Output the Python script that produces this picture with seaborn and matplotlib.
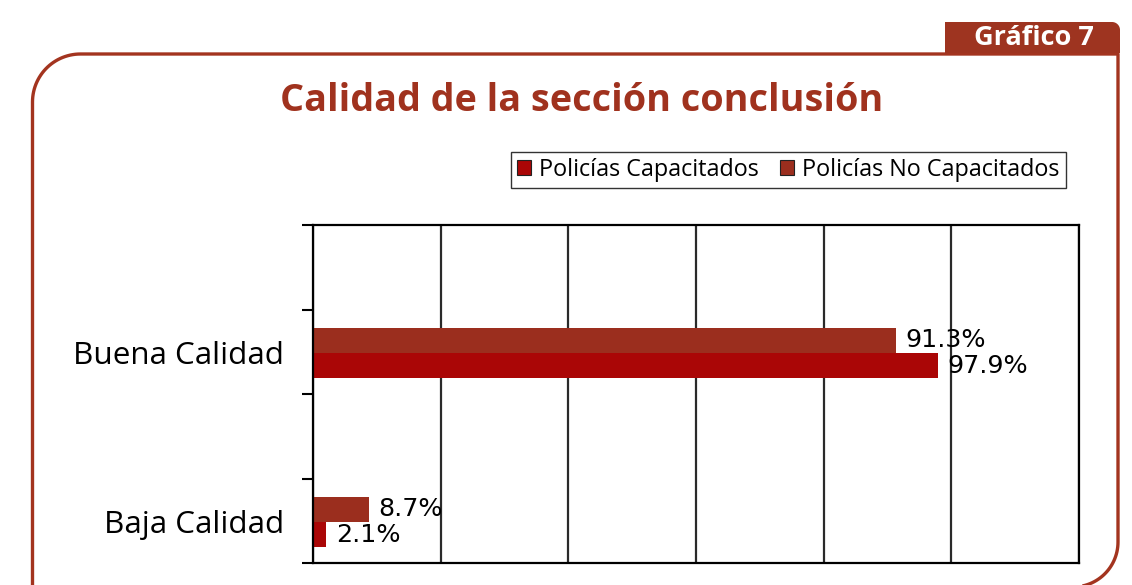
import numpy as np
import pandas as pd
import matplotlib
matplotlib.use("Agg")
import matplotlib.pyplot as plt
import seaborn as sns
from matplotlib.patches import Patch, PathPatch
from matplotlib.path import Path

# ---- data ----
categories = ["Buena Calidad", "Baja Calidad"]
groups = ["Policías Capacitados", "Policías No Capacitados"]
capacitados = [97.9, 2.1]
no_capacitados = [91.3, 8.7]
title = "Calidad de la sección conclusión"
badge = "Gráfico 7"

df = pd.DataFrame({
    "Calidad": categories * 2,
    "Grupo": [groups[0]] * 2 + [groups[1]] * 2,
    "Porcentaje": capacitados + no_capacitados,
})

sns.set_theme(style="white")
plt.rcParams["font.family"] = ["Open Sans", "DejaVu Sans"]
plt.rcParams["text.color"] = "black"
plt.rcParams["ytick.color"] = "black"
plt.rcParams["ytick.labelcolor"] = "black"

W, H = 1132, 585
fig = plt.figure(figsize=(W / 100, H / 100), dpi=100)
fig.patch.set_facecolor("white")

col_cap = "#AA0606"
col_nocap = "#9B2E1E"
frame_col = "#A3341F"

# ---- overlay for frame / badge ----
ov = fig.add_axes([0, 0, 1, 1], zorder=0)
ov.set_xlim(0, W)
ov.set_ylim(H, 0)
ov.axis("off")

def arc(cx, cy, r, a0, a1, n=30):
    t = np.radians(np.linspace(a0, a1, n))
    return np.column_stack([cx + r * np.cos(t), cy + r * np.sin(t)])

L, T, R = 32.5, 54, 1118
r1, r2 = 48, 45
pts = [np.array([[L, 600], [L, T + r1]])]
pts.append(arc(L + r1, T + r1, r1, 180, 270))
pts.append(np.array([[R, T], [R, 542]]))
pts.append(arc(R - r2, 542, r2, 0, 90))
verts = np.vstack(pts)
ov.add_patch(PathPatch(Path(verts), fill=False, edgecolor=frame_col, lw=2.4,
                       capstyle="butt", joinstyle="round"))

# badge with rounded top-right corner
bx0, bx1, by0, by1, br = 945, 1120, 22, 53, 8
bpts = np.vstack([np.array([[bx0, by1], [bx0, by0], [bx1 - br, by0]]),
                  arc(bx1 - br, by0 + br, br, 270, 360),
                  np.array([[bx1, by1], [bx0, by1]])])
ov.add_patch(PathPatch(Path(bpts), facecolor="#9E3420", edgecolor="none"))
ov.text(1034, 38, badge, color="white", fontsize=19.5, fontweight="bold",
        ha="center", va="center")
ov.text(582, 101, title, color="#A0321E", fontsize=27.2, fontweight="bold",
        ha="center", va="center")

# ---- main chart ----
ax = fig.add_axes([313 / W, 1 - 563 / H, (1079 - 313) / W, (563 - 225) / H], zorder=2)
sns.barplot(data=df, y="Calidad", x="Porcentaje", hue="Grupo",
            order=categories, hue_order=[groups[1], groups[0]],
            palette={groups[0]: col_cap, groups[1]: col_nocap},
            orient="h", width=0.3, legend=False, ax=ax, saturation=1,
            linewidth=0, edgecolor="none")

for cont in ax.containers:
    for bar in cont:
        w = bar.get_width()
        yc = bar.get_y() + bar.get_height() / 2
        ax.annotate(f"{w:.1f}%", (w, yc), xytext=(7, 0), textcoords="offset points",
                    ha="left", va="center", fontsize=18.3, family="DejaVu Sans",
                    color="black", annotation_clip=False, zorder=5)

ax.set_xlim(0, 120)
ax.set_ylim(1.243, -0.757)
ax.set_xticks(np.arange(0, 121, 20))
ax.set_xticklabels([])
ax.tick_params(axis="x", length=0)
ax.grid(axis="x", color="#2a2a2a", lw=1.6)
ax.set_axisbelow(True)

ax.set_yticks([-0.757, -0.257, 0.243, 0.743, 1.243])
ax.set_yticklabels([])
ax.tick_params(axis="y", which="major", length=8, width=1.5, color="black", left=True)
ax.set_yticks([0, 1], minor=True)
ax.set_yticklabels(categories, minor=True, fontsize=22.6, color="black")
ax.tick_params(axis="y", which="minor", length=0, pad=21, left=True)
ax.set_xlabel("")
ax.set_ylabel("")
for s in ax.spines.values():
    s.set_visible(True)
    s.set_color("black")
    s.set_linewidth(1.6)

handles = [Patch(facecolor=col_cap, edgecolor="#222222", lw=0.8),
           Patch(facecolor=col_nocap, edgecolor="#222222", lw=0.8)]
leg = fig.legend(handles, groups, loc="center", bbox_to_anchor=(788.5 / W, 1 - 170 / H),
                 ncol=2, fontsize=16.8, frameon=True, fancybox=False,
                 handlelength=0.6, handleheight=0.6, handletextpad=0.35,
                 columnspacing=0.9, borderpad=0.25, labelcolor="black")
leg.get_frame().set_edgecolor("black")
leg.get_frame().set_linewidth(1.0)

fig.savefig("out.png", dpi=100)
